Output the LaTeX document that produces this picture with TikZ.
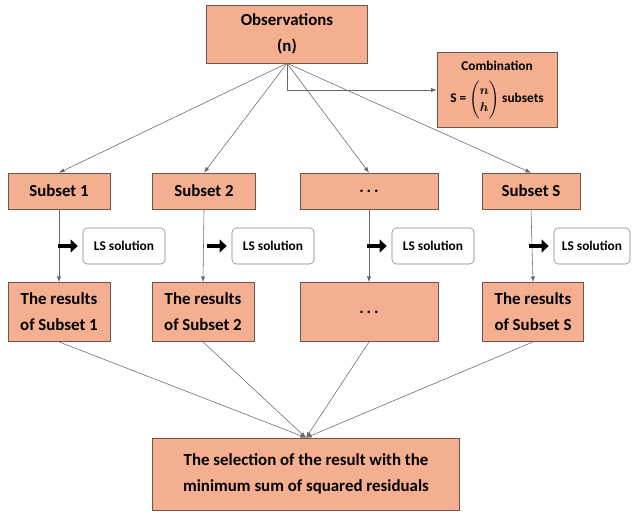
\documentclass[tikz,border=0pt]{standalone}
\usepackage{fontspec}
\setmainfont{Carlito}
\usepackage{amsmath}
\usetikzlibrary{positioning,arrows.meta,calc}

\definecolor{boxfill}{RGB}{244,174,144}
\definecolor{boxline}{RGB}{110,85,75}
\definecolor{linkgray}{RGB}{105,105,105}

\begin{document}
\begin{tikzpicture}[x=0.025cm, y=-0.025cm,
  box/.style={draw=boxline, fill=boxfill, align=center, inner sep=1pt,
    font=\bfseries\fontsize{12}{18.5}\selectfont},
  lsbox/.style={draw=gray, fill=white, rounded corners=3pt, inner sep=1pt,
    minimum width=2.05cm, minimum height=0.9cm,
    font=\bfseries\fontsize{9.5}{11}\selectfont},
  link/.style={draw=linkgray, -{Latex[length=4pt,width=3pt]}},
  fat/.style={line width=3.5pt, -{Triangle[length=5pt,width=9pt]}}]
\useasboundingbox (0,0) rectangle (636,513);
% top
\node[box, minimum width=4.03cm, minimum height=1.45cm] (obs) at (287,34) {Observations\\(n)};
\node[box, minimum width=3cm, minimum height=1.88cm, font=\bfseries\fontsize{9.5}{18}\selectfont]
  (comb) at (497,90) {Combination\\[5pt]S = $\dbinom{\boldsymbol{n}}{\boldsymbol{h}}$ subsets};
\draw[link] (obs.south) |- (comb.west);
% subsets
\node[box, minimum width=2.55cm, minimum height=0.9cm] (sub1) at (59,191) {Subset 1};
\node[box, minimum width=2.58cm, minimum height=0.9cm] (sub2) at (204,191) {Subset 2};
\node[box, minimum width=3.45cm, minimum height=0.9cm] (sub3) at (369,191) {.\,.\,.};
\node[box, minimum width=2.45cm, minimum height=0.9cm] (sub4) at (531,191) {Subset S};
% LS solutions
\node[lsbox] (ls1) at (124,246) {LS solution};
\node[lsbox] (ls2) at (273,246) {LS solution};
\node[lsbox] (ls3) at (433,246) {LS solution};
\node[lsbox, minimum width=1.9cm] (ls4) at (592,246) {LS solution};
% results
\node[box, minimum width=2.55cm, minimum height=1.48cm] (res1) at (59,312) {The results\\of Subset 1};
\node[box, minimum width=2.55cm, minimum height=1.48cm] (res2) at (203,312) {The results\\of Subset 2};
\node[box, minimum width=3.45cm, minimum height=1.48cm] (res3) at (369,312) {.\,.\,.};
\node[box, minimum width=2.53cm, minimum height=1.48cm] (res4) at (533,312) {The results\\of Subset S};
% selection
\node[box, minimum width=7.68cm, minimum height=1.8cm] (sel) at (306,474)
  {The selection of the result with the\\minimum sum of squared residuals};
% connectors
\foreach \i in {1,...,4} {
  \draw[link] (obs.south) -- (sub\i.north);
  \draw[link] (sub\i.south) -- (res\i.north);
  \draw[link] (res\i.south) -- (sel.north);
  \draw[fat] ($(ls\i.west)+(-25,0)$) -- ($(ls\i.west)+(-5,0)$);
}
\end{tikzpicture}
\end{document}
